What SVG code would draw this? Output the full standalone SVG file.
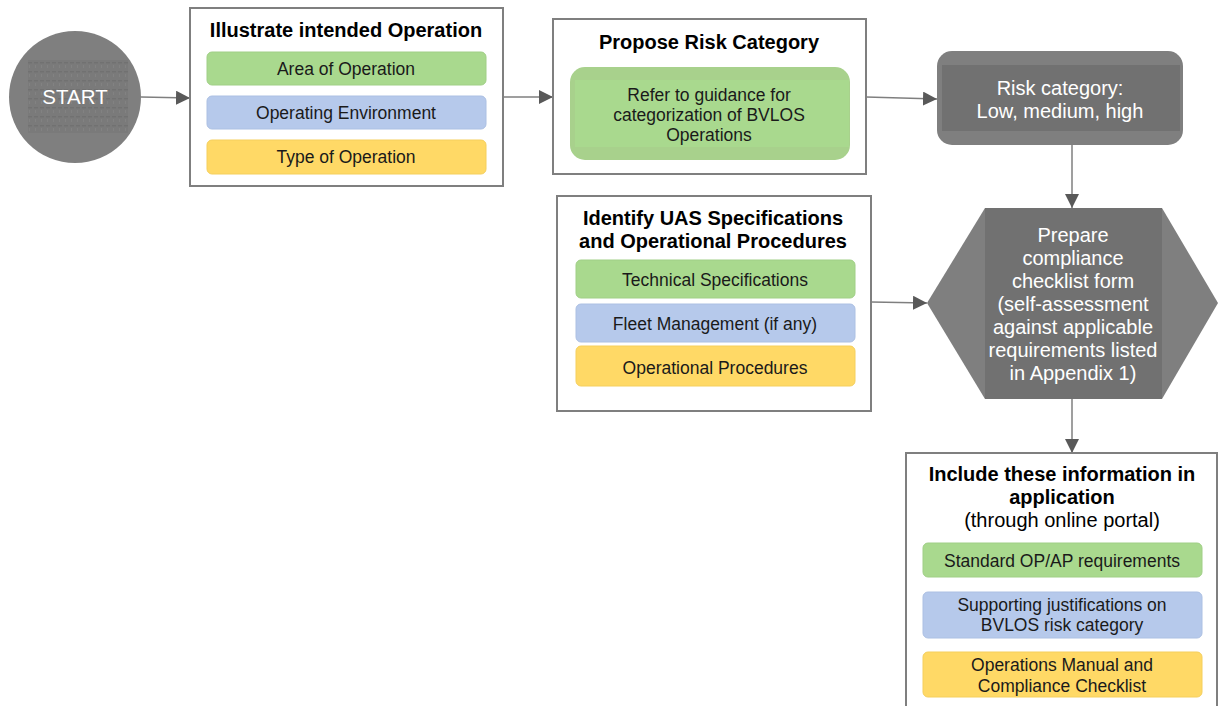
<svg xmlns="http://www.w3.org/2000/svg" width="1218" height="706" viewBox="0 0 1218 706">
  <defs>
    <marker id="arrow" viewBox="0 0 10 10" refX="10" refY="5" markerWidth="14" markerHeight="14" markerUnits="userSpaceOnUse" orient="auto">
      <path d="M0,0 L10,5 L0,10 z" fill="#595959"/>
    </marker>
    <pattern id="grain" x="28" y="60" width="6" height="9" patternUnits="userSpaceOnUse">
      <rect x="0" y="0" width="6" height="9" fill="#7a7a7a"/>
      <rect x="0" y="2" width="4" height="1.5" fill="#717171"/>
      <rect x="1" y="5" width="1" height="3" fill="#828282"/>
    </pattern>
    <style>
      .frame { fill: #ffffff; stroke: #7f7f7f; stroke-width: 2; }
      .green { fill: #a9d98e; stroke: #a0cf86; stroke-width: 1; }
      .blue { fill: #b6c9eb; stroke: #acc0e3; stroke-width: 1; }
      .yellow { fill: #ffd966; stroke: #f5cf5c; stroke-width: 1; }
      .dark { fill: #7f7f7f; }
      .darker { fill: #717171; }
      .title { font-family: "Liberation Sans", Arial, sans-serif; font-size: 20px; font-weight: bold; fill: #000000; text-anchor: middle; }
      .label { font-family: "Liberation Sans", Arial, sans-serif; font-size: 17.5px; fill: #1a1a1a; text-anchor: middle; }
      .sub { font-family: "Liberation Sans", Arial, sans-serif; font-size: 20px; fill: #000000; text-anchor: middle; }
      .white { font-family: "Liberation Sans", Arial, sans-serif; font-size: 20px; fill: #ffffff; text-anchor: middle; }
      .conn { fill: none; stroke: #7f7f7f; stroke-width: 1.5; marker-end: url(#arrow); }
    </style>
  </defs>

  <!-- connectors -->
  <g id="connectors">
    <path class="conn" d="M141,97 L190,98"/>
    <path class="conn" d="M503,97 L553,97"/>
    <path class="conn" d="M866,97 L937,99"/>
    <path class="conn" d="M1072,145 L1072,208"/>
    <path class="conn" d="M871,302 L927,303"/>
    <path class="conn" d="M1072,399 L1072,453"/>
  </g>

  <!-- start terminal -->
  <g id="start">
    <circle cx="75" cy="97" r="66" class="dark"/>
    <rect x="28" y="60" width="100" height="73" fill="url(#grain)"/>
    <text x="75" y="104" class="white" style="font-size:20.5px">START</text>
  </g>

  <!-- step 1 -->
  <g id="illustrate-operation">
    <rect x="190" y="8" width="313" height="178" class="frame"/>
    <text x="346" y="37" class="title">Illustrate intended Operation</text>
    <rect x="207" y="52" width="279" height="33" rx="5" class="green"/>
    <text x="346" y="75" class="label">Area of Operation</text>
    <rect x="207" y="96" width="279" height="33" rx="5" class="blue"/>
    <text x="346" y="119" class="label">Operating Environment</text>
    <rect x="207" y="140" width="279" height="34" rx="5" class="yellow"/>
    <text x="346" y="163" class="label">Type of Operation</text>
  </g>

  <!-- step 2 -->
  <g id="propose-risk-category">
    <rect x="553" y="19" width="313" height="155" class="frame"/>
    <text x="709" y="49" class="title">Propose Risk Category</text>
    <rect x="570" y="67" width="280" height="93" rx="15" fill="#a8d18c"/>
    <rect x="575" y="80" width="274" height="67" fill="#a9d98e"/>
    <text x="709" y="101" class="label">Refer to guidance for</text>
    <text x="709" y="121" class="label">categorization of BVLOS</text>
    <text x="709" y="141" class="label">Operations</text>
  </g>

  <!-- risk result -->
  <g id="risk-category">
    <rect x="937" y="51" width="246" height="94" rx="15" class="dark"/>
    <rect x="942" y="65" width="238" height="66" class="darker"/>
    <text x="1060" y="95" class="white">Risk category:</text>
    <text x="1060" y="118" class="white">Low, medium, high</text>
  </g>

  <!-- step 3 -->
  <g id="identify-uas">
    <rect x="557" y="196" width="314" height="215" class="frame"/>
    <text x="713" y="225" class="title">Identify UAS Specifications</text>
    <text x="713" y="248" class="title">and Operational Procedures</text>
    <rect x="576" y="260" width="279" height="38" rx="5" class="green"/>
    <text x="715" y="286" class="label">Technical Specifications</text>
    <rect x="576" y="304" width="279" height="38" rx="5" class="blue"/>
    <text x="715" y="330" class="label">Fleet Management (if any)</text>
    <rect x="576" y="346" width="279" height="40" rx="5" class="yellow"/>
    <text x="715" y="374" class="label">Operational Procedures</text>
  </g>

  <!-- compliance checklist -->
  <g id="compliance-checklist">
    <polygon points="927,303 985,208 1162,208 1218,303 1162,399 985,399" class="dark"/>
    <rect x="985" y="208" width="177" height="191" class="darker"/>
    <text x="1073" y="242" class="white">Prepare</text>
    <text x="1073" y="265" class="white">compliance</text>
    <text x="1073" y="288" class="white">checklist form</text>
    <text x="1073" y="311" class="white">(self-assessment</text>
    <text x="1073" y="334" class="white">against applicable</text>
    <text x="1073" y="357" class="white">requirements listed</text>
    <text x="1073" y="380" class="white">in Appendix 1)</text>
  </g>

  <!-- application -->
  <g id="application">
    <rect x="906" y="453" width="311" height="270" class="frame"/>
    <text x="1062" y="481" class="title">Include these information in</text>
    <text x="1062" y="504" class="title">application</text>
    <text x="1062" y="527" class="sub">(through online portal)</text>
    <rect x="923" y="543" width="279" height="34" rx="5" class="green"/>
    <text x="1062" y="567" class="label">Standard OP/AP requirements</text>
    <rect x="923" y="592" width="279" height="46" rx="5" class="blue"/>
    <text x="1062" y="611" class="label">Supporting justifications on</text>
    <text x="1062" y="631" class="label">BVLOS risk category</text>
    <rect x="923" y="652" width="279" height="45" rx="5" class="yellow"/>
    <text x="1062" y="671" class="label">Operations Manual and</text>
    <text x="1062" y="692" class="label">Compliance Checklist</text>
  </g>
</svg>
